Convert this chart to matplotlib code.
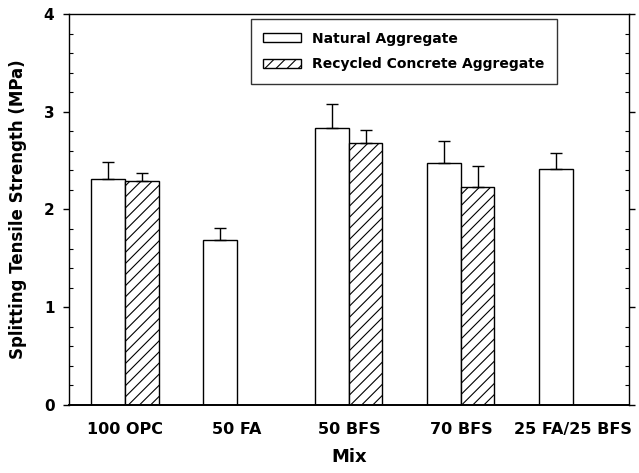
import numpy as np
import matplotlib
matplotlib.use("Agg")
import matplotlib.pyplot as plt
from matplotlib.ticker import MultipleLocator

plt.rcParams['font.family'] = ['DejaVu Sans']
plt.rcParams['font.weight'] = 'bold'
plt.rcParams['hatch.linewidth'] = 0.8

# Splitting tensile strength by binder mix
mixes = ["100 OPC", "50 FA", "50 BFS", "70 BFS", "25 FA/25 BFS"]
natural = [2.31, 1.69, 2.83, 2.48, 2.41]
natural_err = [0.18, 0.12, 0.25, 0.22, 0.17]
recycled = [2.29, np.nan, 2.68, 2.23, np.nan]
recycled_err = [0.08, np.nan, 0.13, 0.22, np.nan]

x = np.arange(1, len(mixes) + 1)
w = 0.30

fig = plt.figure(figsize=(6.39, 4.73), dpi=100)
ax = fig.add_axes([0.108, 0.1438, 0.876, 0.8266])

ax.bar(x - w / 2, natural, width=w, color='white', edgecolor='black',
       linewidth=1.0, label='Natural Aggregate', zorder=2)
ax.bar(x + w / 2, recycled, width=w, color='white', edgecolor='black',
       linewidth=1.0, hatch='///', label='Recycled Concrete Aggregate', zorder=2)

nat_err = np.array(natural_err)
rec_err = np.array(recycled_err)
ax.errorbar(x - w / 2, natural, yerr=[np.zeros_like(nat_err), nat_err],
            fmt='none', ecolor='black', elinewidth=1.0, capsize=4.3,
            capthick=1.0, zorder=3)
ax.errorbar(x + w / 2, recycled, yerr=[np.zeros_like(rec_err), rec_err],
            fmt='none', ecolor='black', elinewidth=1.0, capsize=4.3,
            capthick=1.0, zorder=3)

ax.set_xlim(0.5, 5.5)
ax.set_ylim(0, 4)
ax.set_xticks(x)
ax.set_xticklabels(mixes, fontsize=11.5, fontweight='bold')
ax.tick_params(axis='x', length=0, pad=12)

ax.yaxis.set_major_locator(MultipleLocator(1))
ax.yaxis.set_minor_locator(MultipleLocator(0.2))
ax.tick_params(axis='y', which='major', direction='out', length=4.5, width=1,
               labelsize=11, pad=6, left=True, right=True)
ax.tick_params(axis='y', which='minor', direction='in', length=3.2, width=0.8,
               left=True, right=True)
for lab in ax.get_yticklabels():
    lab.set_fontweight('bold')

for side in ['left', 'right', 'top']:
    ax.spines[side].set_linewidth(1.0)
ax.spines['bottom'].set_linewidth(1.4)

ax.set_ylabel('Splitting Tensile Strength (MPa)', fontsize=12,
              fontweight='bold', labelpad=12)
ax.set_xlabel('Mix', fontsize=13, fontweight='bold', labelpad=8)

leg = ax.legend(loc='upper left', bbox_to_anchor=(0.325, 0.987),
                fontsize=10, frameon=True, fancybox=False,
                edgecolor='black', handlelength=2.7, handleheight=0.6,
                handletextpad=0.8, labelspacing=0.85, borderpad=0.9,
                borderaxespad=0)
leg.get_frame().set_linewidth(1.0)
for t in leg.get_texts():
    t.set_fontweight('bold')

fig.savefig('out.png', dpi=100)
